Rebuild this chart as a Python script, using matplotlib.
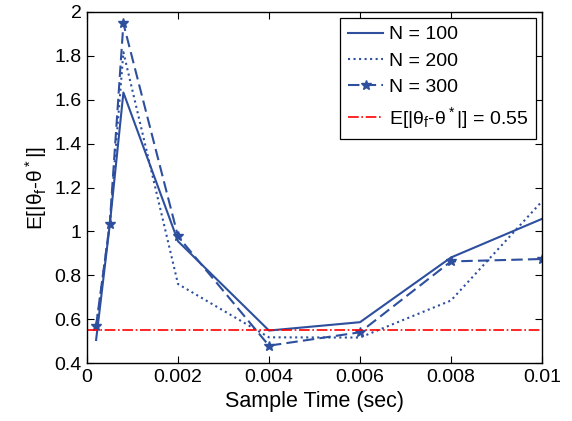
import matplotlib
matplotlib.use("Agg")
import matplotlib.pyplot as plt

plt.rcParams['font.family'] = ['Liberation Sans', 'DejaVu Sans']
plt.rcParams['mathtext.fontset'] = 'custom'
plt.rcParams['mathtext.rm'] = 'Liberation Sans'
plt.rcParams['mathtext.it'] = 'Liberation Sans'
plt.rcParams['mathtext.bf'] = 'Liberation Sans:bold'

sample_time = [0.0002, 0.0005, 0.0008, 0.002, 0.004, 0.006, 0.008, 0.01]
n100 = [0.505, 1.03, 1.633, 0.955, 0.548, 0.586, 0.881, 1.057]
n200 = [0.565, 1.03, 1.817, 0.760, 0.517, 0.516, 0.685, 1.137]
n300 = [0.570, 1.034, 1.948, 0.977, 0.479, 0.540, 0.863, 0.874]
ref_level = 0.55

blue = '#2d4f9e'
fig = plt.figure(figsize=(5.72, 4.21), dpi=100)
ax = fig.add_axes([87/572, 1 - 363/421, 455/572, 351/421])

ax.plot(sample_time, n100, '-', color=blue, lw=1.5, label='N = 100')
ax.plot(sample_time, n200, ':', color=blue, lw=1.5, label='N = 200')
ax.plot(sample_time, n300, '--', color=blue, lw=1.5, marker='*', ms=7,
        dashes=(5.5, 2.5), label='N = 300')
ax.axhline(ref_level, color='#ff0000', lw=1.2, ls='-.',
           label=r'E[|$\theta_f$-$\theta^*$|] = 0.55')

ax.set_xlim(0, 0.01)
ax.set_ylim(0.4, 2.0)
ax.set_xticks([0, 0.002, 0.004, 0.006, 0.008, 0.01])
ax.set_xticklabels(['0', '0.002', '0.004', '0.006', '0.008', '0.01'])
ax.set_yticks([0.4, 0.6, 0.8, 1.0, 1.2, 1.4, 1.6, 1.8, 2.0])
ax.set_yticklabels(['0.4', '0.6', '0.8', '1', '1.2', '1.4', '1.6', '1.8', '2'])
ax.tick_params(direction='in', top=True, right=True, labelsize=14,
               length=5, width=0.8, pad=4)
for s in ax.spines.values():
    s.set_linewidth(1.0)

ax.set_xlabel('Sample Time (sec)', fontsize=15.5, labelpad=4)
ax.set_ylabel(r'E[|$\theta_f$-$\theta^*$|]', fontsize=15, labelpad=4)

leg = ax.legend(loc='upper right', fontsize=14, frameon=True, fancybox=False,
                edgecolor='black', framealpha=1, handlelength=1.8,
                borderpad=0.4, labelspacing=0.45, handletextpad=0.3,
                borderaxespad=0,
                bbox_to_anchor=(536/572, 1 - 18/421), bbox_transform=fig.transFigure)
leg.get_frame().set_linewidth(0.9)

fig.savefig('out.png', dpi=100)
